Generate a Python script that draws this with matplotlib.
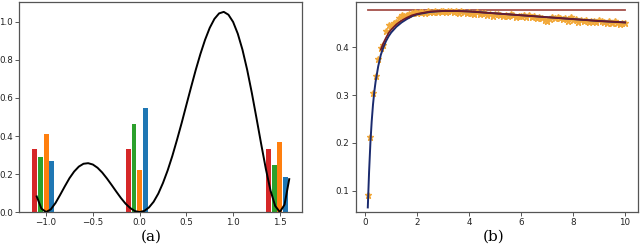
import matplotlib.pyplot as plt

plt.rcParams['font.family'] = 'DejaVu Sans'
plt.rcParams['font.size'] = 6.3

################  data (a)
curve_x = [-1.10, -1.05, -1.00, -0.95, -0.90, -0.85, -0.80, -0.75, -0.70, -0.65,
           -0.60, -0.55, -0.50, -0.45, -0.40, -0.35, -0.30, -0.25, -0.20, -0.15,
           -0.10, -0.05, 0.00, 0.05, 0.10, 0.15, 0.20, 0.25, 0.30, 0.35,
           0.40, 0.45, 0.50, 0.55, 0.60, 0.65, 0.70, 0.75, 0.80, 0.85,
           0.90, 0.95, 1.00, 1.05, 1.10, 1.15, 1.20, 1.25, 1.30, 1.35,
           1.40, 1.45, 1.50, 1.55, 1.60]
curve_y = [0.082, 0.018, 0.000, 0.014, 0.047, 0.090, 0.135, 0.178, 0.213, 0.239,
           0.254, 0.257, 0.250, 0.233, 0.208, 0.177, 0.143, 0.108, 0.074, 0.044,
           0.021, 0.005, 0.000, 0.006, 0.024, 0.054, 0.097, 0.153, 0.219, 0.295,
           0.380, 0.469, 0.563, 0.656, 0.747, 0.831, 0.906, 0.969, 1.016, 1.045,
           1.053, 1.038, 1.000, 0.938, 0.854, 0.749, 0.627, 0.494, 0.358, 0.227,
           0.113, 0.032, 0.000, 0.039, 0.173]

group_x = [-1.0, 0.0, 1.5]
bar_red = [0.333, 0.333, 0.333]
bar_green = [0.290, 0.463, 0.245]
bar_orange = [0.410, 0.220, 0.370]
bar_blue = [0.270, 0.545, 0.185]

################  data (b)
star_x = [round(0.1 * i, 1) for i in range(1, 101)]
star_y = [0.090, 0.213, 0.305, 0.340, 0.376, 0.398, 0.405, 0.435, 0.447, 0.445,
          0.450, 0.453, 0.462, 0.467, 0.465, 0.468, 0.470, 0.472, 0.474, 0.471,
          0.473, 0.474, 0.472, 0.475, 0.473, 0.474, 0.476, 0.473, 0.475, 0.476,
          0.474, 0.476, 0.475, 0.473, 0.476, 0.472, 0.475, 0.474, 0.471, 0.473,
          0.472, 0.470, 0.473, 0.469, 0.471, 0.472, 0.468, 0.470, 0.466, 0.469,
          0.470, 0.467, 0.465, 0.468, 0.466, 0.469, 0.467, 0.464, 0.466, 0.465,
          0.467, 0.464, 0.468, 0.463, 0.465, 0.462, 0.464, 0.461, 0.458, 0.456,
          0.460, 0.463, 0.461, 0.464, 0.462, 0.459, 0.461, 0.455, 0.463, 0.457,
          0.459, 0.453, 0.457, 0.455, 0.458, 0.452, 0.456, 0.454, 0.453, 0.457,
          0.455, 0.452, 0.451, 0.454, 0.450, 0.455, 0.451, 0.449, 0.450, 0.451]

fit_x = [0.1, 0.15, 0.2, 0.25, 0.3, 0.35, 0.4, 0.5, 0.6, 0.7, 0.8, 0.9, 1.0,
         1.2, 1.4, 1.6, 1.8, 2.0, 2.5, 3.0, 3.5, 4.0, 4.5, 5.0, 5.5, 6.0,
         6.5, 7.0, 7.5, 8.0, 8.5, 9.0, 9.5, 10.0]
fit_y = [0.065, 0.140, 0.200, 0.245, 0.280, 0.307, 0.328, 0.360, 0.384, 0.400,
         0.413, 0.423, 0.431, 0.443, 0.452, 0.459, 0.465, 0.469, 0.474, 0.476,
         0.476, 0.475, 0.473, 0.471, 0.469, 0.467, 0.465, 0.463, 0.461, 0.459,
         0.457, 0.455, 0.4535, 0.452]

fit2_x = [0.6, 0.7, 0.8, 0.9, 1.0, 1.2, 1.4, 1.6, 1.8, 2.0, 2.5, 3.0, 3.5,
          4.0, 4.5, 5.0, 5.5, 6.0, 6.5, 7.0, 7.5, 8.0, 8.5, 9.0, 9.5, 10.0]
fit2_y = [0.395, 0.409, 0.420, 0.430, 0.437, 0.448, 0.456, 0.462, 0.467, 0.470,
          0.475, 0.476, 0.476, 0.475, 0.473, 0.471, 0.469, 0.467, 0.465, 0.463,
          0.461, 0.459, 0.457, 0.455, 0.4535, 0.452]

limit_x = [0.1, 10.0]
limit_y = [0.477, 0.477]

############################################################
fig = plt.figure(figsize=(6.4, 2.48), dpi=100)
ax1 = fig.add_axes([0.030, 0.145, 0.442, 0.847])
ax2 = fig.add_axes([0.556, 0.145, 0.441, 0.847])

### (a)
w = 0.052
offs = [-0.12, -0.06, 0.0, 0.06]
cols = ['#d62728', '#2ca02c', '#ff7f0e', '#1f77b4']
for off, vals, c in zip(offs, [bar_red, bar_green, bar_orange, bar_blue], cols):
    ax1.bar([g + off for g in group_x], vals, width=w, color=c, zorder=2)
ax1.plot(curve_x, curve_y, color='black', lw=1.4, zorder=3)
ax1.set_xlim(-1.2875, 1.7375)
ax1.set_ylim(0, 1.105)
ax1.set_xticks([-1.0, -0.5, 0.0, 0.5, 1.0, 1.5])
ax1.set_yticks([0.0, 0.2, 0.4, 0.6, 0.8, 1.0])

### (b)
ax2.plot(limit_x, limit_y, color='#a5504a', lw=1.3, zorder=2)
ax2.plot(star_x, star_y, '*', color='#f2a93b', ms=5, zorder=3)
ax2.plot(fit_x, fit_y, color='#1a2a6e', lw=1.4, zorder=4)
ax2.plot(fit2_x, fit2_y, color='#6e1a2a', lw=1.2, zorder=5)
ax2.set_xlim(-0.36, 10.5)
ax2.set_ylim(0.0554, 0.4948)
ax2.set_xticks([0, 2, 4, 6, 8, 10])
ax2.set_yticks([0.1, 0.2, 0.3, 0.4])

for ax in (ax1, ax2):
    for s in ax.spines.values():
        s.set_color('#555555')
        s.set_linewidth(0.9)
    ax.tick_params(length=3, width=0.7, color='#555555', labelcolor='#222222',
                   labelsize=6.3, pad=1.5)

fig.text(0.236, 0.045, '(a)', family='DejaVu Serif', fontsize=11,
         ha='center', va='center')
fig.text(0.771, 0.045, '(b)', family='DejaVu Serif', fontsize=11,
         ha='center', va='center')

fig.savefig('out.png', dpi=100)
